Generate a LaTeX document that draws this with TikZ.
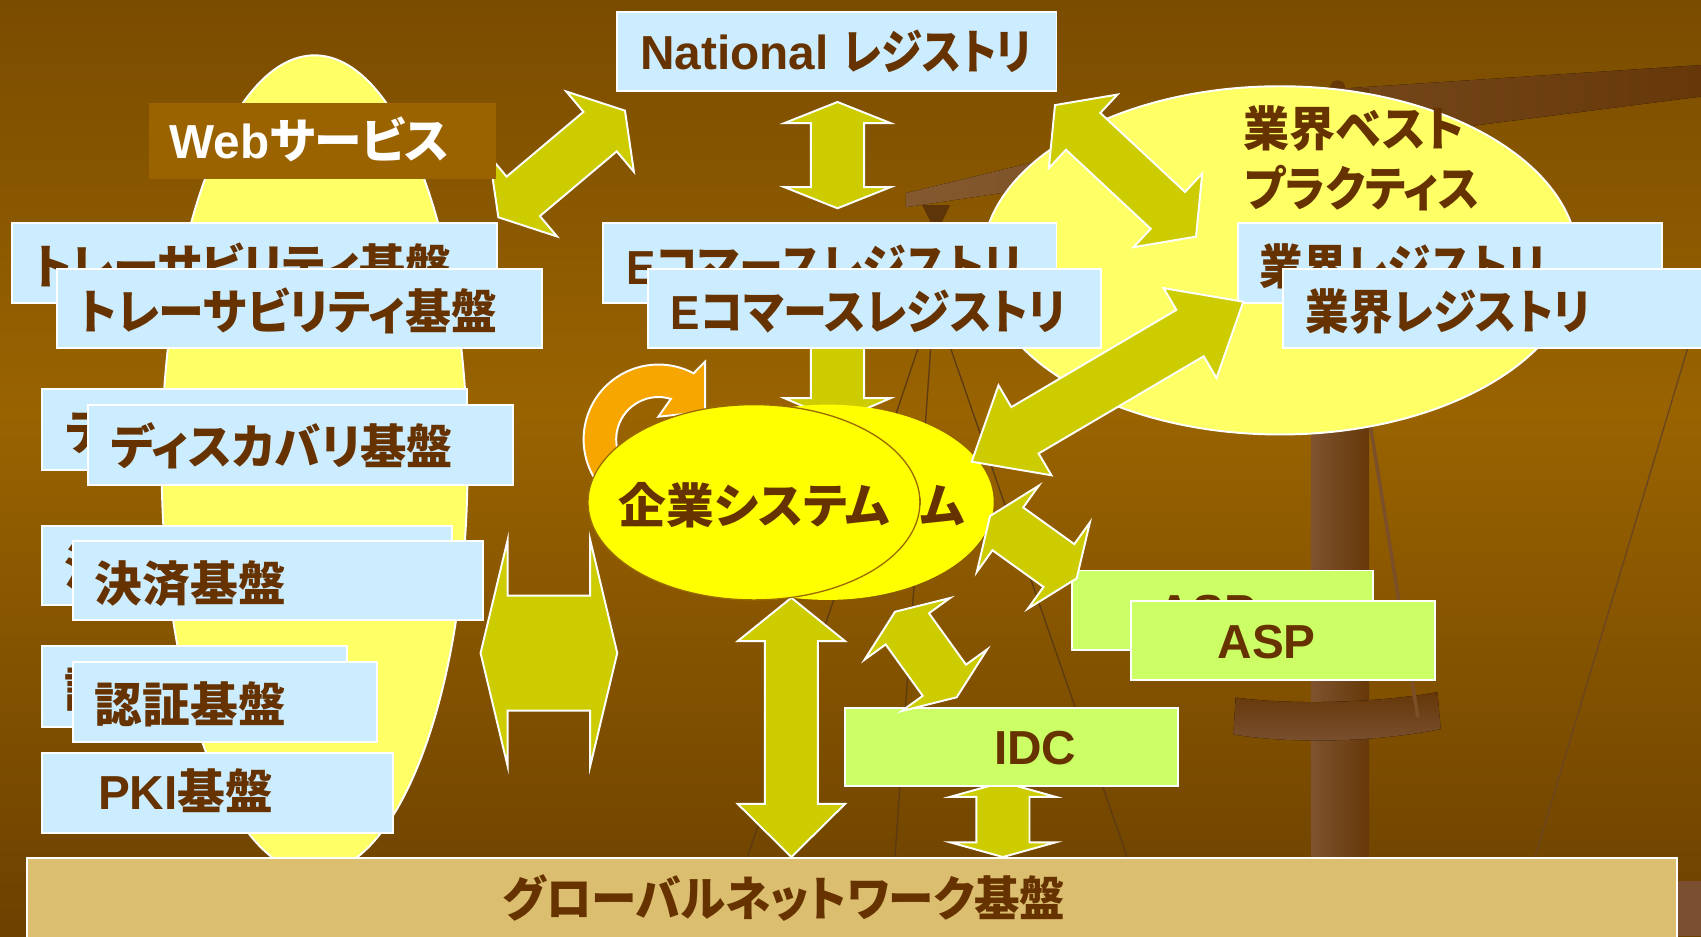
\documentclass[tikz,border=0pt]{standalone}
\usepackage{fontspec}
\usepackage{graphicx}
\usetikzlibrary{shapes.geometric}
\newfontfamily\jpfont{Noto Sans CJK JP}[RawFeature=+palt]
\newfontfamily\latfont{Liberation Sans}
\newcommand\jtext[1]{{\jpfont\bfseries #1}}
\newcommand\ltext[1]{{\latfont\bfseries #1}}
% horizontally condensed label text
\newcommand\narrow[2]{\scalebox{#1}[1]{#2}}

\definecolor{bgtop}{HTML}{7A4C00}
\definecolor{bgmid}{HTML}{996300}
\definecolor{bgbot}{HTML}{6C4100}
\definecolor{textbrown}{HTML}{663300}
\definecolor{skyfill}{HTML}{CCECFF}
\definecolor{limefill}{HTML}{CCFF66}
\definecolor{arrowolive}{HTML}{CCCC00}
\definecolor{paleyellow}{HTML}{FFFF66}
\definecolor{sunyellow}{HTML}{FFFF00}
\definecolor{orangearc}{HTML}{F7A600}
\definecolor{tanfill}{HTML}{DBBE70}
\definecolor{webfill}{HTML}{9A6300}
\definecolor{woodlight}{HTML}{85592F}
\definecolor{wooddark}{HTML}{663809}
\definecolor{woodpole}{HTML}{7E532E}
\definecolor{woodpan}{HTML}{7A5030}
\definecolor{woodstrand}{HTML}{7B4F28}
\definecolor{woodcorner}{HTML}{7A5030}
\definecolor{hangerbrown}{HTML}{5E3508}
\definecolor{stringbrown}{HTML}{5C3A14}
\definecolor{farstring}{HTML}{6A4520}
\definecolor{bizrim}{HTML}{9A6A00}

\pgfdeclareverticalshading{bgshade}{100bp}{color(0bp)=(bgbot); color(25bp)=(bgbot); color(53bp)=(bgmid); color(75bp)=(bgtop); color(100bp)=(bgtop)}

\tikzset{
  skybox/.style={rectangle, draw=white, line width=0.9pt, fill=skyfill, inner sep=0pt},
  limebox/.style={rectangle, draw=white, line width=0.9pt, fill=limefill, inner sep=0pt},
  tanbox/.style={rectangle, draw=white, line width=0.9pt, fill=tanfill, inner sep=0pt},
  webbox/.style={rectangle, fill=webfill, inner sep=0pt},
  lbl/.style={text=textbrown, inner sep=0pt, anchor=base west, font=\fontsize{22}{26}\selectfont},
  blockarrow/.style={draw=white, line width=0.9pt, fill=arrowolive, line join=miter},
  yellowell/.style={ellipse, draw=white, line width=0.9pt, fill=paleyellow, inner sep=0pt},
  bizell/.style={ellipse, fill=sunyellow, inner sep=0pt, minimum width=153pt, minimum height=90pt},
  orangearrow/.style={draw=white, line width=0.9pt, fill=orangearc, line join=miter},
  string/.style={draw=stringbrown, line width=0.6pt},
}

% rectangle node from its top-left and bottom-right corners (pixel grid, y downwards)
\newcommand\slidebox[6]{%
  \node[#1, anchor=north west, minimum width={(#5-#3)*0.5pt}, minimum height={(#6-#4)*0.5pt}] (#2) at (#3,#4) {};}

% double-headed block arrow: centre x, centre y, angle, half length, head length, head half width, shaft half width
\newcommand\dblarrow[7]{%
  \begin{scope}[shift={(#1,#2)}, rotate=#3]
    \draw[blockarrow] (#4,0) -- ({#4-#5},#6) -- ({#4-#5},#7) -- ({-#4+#5},#7) -- ({-#4+#5},#6)
      -- ({-#4},0) -- ({-#4+#5},{-#6}) -- ({-#4+#5},{-#7}) -- ({#4-#5},{-#7}) -- ({#4-#5},{-#6}) -- cycle;
  \end{scope}}

\begin{document}
\begin{tikzpicture}[x=0.5pt, y=-0.5pt]
\useasboundingbox (0,0) rectangle (1568,863);
\clip (0,0) rectangle (1568,863);

% background
\fill[shading=bgshade] (0,0) rectangle (1568,863);

% balance scale in the background
\fill[left color=woodlight, right color=wooddark]
  (835,178) -- (1232,82) -- (1568,60) -- (1568,89) -- (1232,132) -- (835,191) -- cycle;
\fill[wooddark] (1233,81) circle[radius=7];
\fill[hangerbrown] (850,189) -- (876,189) -- (867,207) -- (859,207) -- cycle;
\draw[string] (862,205) -- (861,277);
\draw[string] (861,277) -- (689,790);
\draw[string] (861,277) -- (825,790);
\draw[string] (861,277) -- (1039,790);
\fill[left color=woodpole, right color=wooddark] (1209,82) rectangle (1262,863);
\fill[top color=wooddark, bottom color=woodpan]
  (1139,643) .. controls (1190,650) and (1270,648) .. (1325,638) -- (1328,672)
  .. controls (1270,684) and (1190,686) .. (1137,677) -- cycle;
\draw[draw=woodstrand, line width=1.6pt] (1262,385) -- (1307,661);
\draw[draw=farstring, line width=0.6pt] (1562,300) -- (1415,790);
\fill[woodcorner] (1546,812) rectangle (1568,863);

% large pale ellipses
\node[yellowell, minimum width=141pt, minimum height=377pt] (svcell) at (290,428) {};
\node[yellowell, minimum width=274.5pt, minimum height=160.5pt] (bestell) at (1180,240) {};

% arrow towards the national registry (partly under the web-service label)
\dblarrow{517.75}{151.15}{40.1}{76.3}{30}{48.4}{23.8}

% web service label
\slidebox{webbox}{websvc}{137}{95}{457}{165}
\node[lbl, text=white] (websvclbl) at (156,146) {\ltext{Web}\jtext{サービス}};

% vertical and horizontal block arrows
\dblarrow{772}{143}{90}{49}{19.5}{49}{24.5}
\dblarrow{772}{339}{90}{49}{21}{49}{24.5}
\dblarrow{924.5}{755.5}{90}{34.5}{13.5}{48.5}{24.5}
\dblarrow{506}{602}{0}{63}{25}{104.5}{53}
\draw[blockarrow] (729.5,551) -- (779,591) -- (754,591) -- (754,741) -- (779,741) -- (729.5,790)
  -- (680,741) -- (705,741) -- (705,591) -- (680,591) -- cycle;

% registry boxes
\slidebox{skybox}{natbox}{568}{10}{973}{83}
\node[lbl] (natlbl) at (590,64) {\ltext{National} \narrow{0.87}{\jtext{レジストリ}}};

\slidebox{skybox}{traceback}{10}{205}{457}{278}
\node[lbl] (tracebacklbl) at (30,262) {\narrow{0.962}{\jtext{トレーサビリティ基盤}}};
\slidebox{skybox}{trace}{52}{247}{499}{320}
\node[lbl] (tracelbl) at (72,304) {\narrow{0.962}{\jtext{トレーサビリティ基盤}}};

\slidebox{skybox}{ecomback}{555}{205}{973}{278}
\node[lbl] (ecombacklbl) at (577,262) {\narrow{0.923}{\ltext{E}\jtext{コマースレジストリ}}};
\slidebox{skybox}{ecom}{596}{247}{1014}{320}
\node[lbl] (ecomlbl) at (618,304) {\narrow{0.923}{\ltext{E}\jtext{コマースレジストリ}}};

\slidebox{skybox}{indback}{1140}{205}{1531}{278}
\node[lbl] (indbacklbl) at (1161,262) {\narrow{0.913}{\jtext{業界レジストリ}}};
\slidebox{skybox}{ind}{1182}{247}{1590}{320}
\node[lbl] (indlbl) at (1203,304) {\narrow{0.913}{\jtext{業界レジストリ}}};

\node[lbl] (bestlbla) at (1146,135) {\narrow{0.966}{\jtext{業界ベスト}}};
\node[lbl] (bestlblb) at (1147,190) {\narrow{0.923}{\jtext{プラクティス}}};

\slidebox{skybox}{discback}{38}{358}{430}{432}
\node[lbl] (discbacklbl) at (60,414) {\narrow{0.969}{\jtext{ディスカバリ基盤}}};
\slidebox{skybox}{disc}{80}{372}{472}{446}
\node[lbl] (disclbl) at (102,428) {\narrow{0.969}{\jtext{ディスカバリ基盤}}};

\slidebox{skybox}{payback}{38}{484}{416}{557}
\node[lbl] (paybacklbl) at (59,540) {\jtext{決済基盤}};
\slidebox{skybox}{pay}{66}{498}{444}{571}
\node[lbl] (paylbl) at (87,554) {\jtext{決済基盤}};

\slidebox{skybox}{authback}{38}{595}{319}{669}
\node[lbl] (authbacklbl) at (59,652) {\jtext{認証基盤}};
\slidebox{skybox}{auth}{66}{609}{347}{683}
\node[lbl] (authlbl) at (87,666) {\jtext{認証基盤}};

\slidebox{skybox}{pki}{38}{693}{361}{767}
\node[lbl] (pkilbl) at (90,746) {\ltext{PKI}\jtext{基盤}};

% service provider boxes
\slidebox{limebox}{aspback}{987}{525}{1265}{598}
\node[lbl] (aspbacklbl) at (1067,579) {\ltext{ASP}};
\slidebox{limebox}{asp}{1042}{553}{1322}{626}
\node[lbl] (asplbl) at (1122,607) {\ltext{ASP}};
\slidebox{limebox}{idc}{778}{652}{1085}{724}
\node[lbl] (idclbl) at (916,705) {\ltext{IDC}};

% circular arrow
\draw[orangearrow] (552.6,447.5) arc[start angle=142, end angle=298, radius=69]
  -- (649.9,333.4) -- (649.9,379.5) -- (606.9,384.1) -- (618.4,367.7)
  arc[start angle=287, end angle=152, radius=39] -- cycle;

% enterprise systems
\node[bizell] (bizback) at (763,463) {};
\node[lbl] (bizbacklbl) at (639,483) {\jtext{企業システム}};
\node[bizell, draw=bizrim, line width=0.6pt] (biz) at (695,463) {};
\node[lbl] (bizlbl) at (570,483) {\jtext{企業システム}};

% diagonal block arrows
\dblarrow{1037.5}{157.5}{-43}{88.9}{35.5}{46.4}{23.2}
\dblarrow{1020.9}{351.85}{30.5}{145.3}{57}{48.1}{24.8}
\dblarrow{952.55}{504.4}{-35.7}{49.2}{20.2}{49}{24.3}
\dblarrow{853.45}{603.35}{-54.2}{48.6}{19.4}{48.6}{24.6}

% global network base
\slidebox{tanbox}{glob}{24}{790}{1545}{880}
\node[lbl] (globlbl) at (463,845) {\narrow{0.954}{\jtext{グローバルネットワーク基盤}}};
\end{tikzpicture}
\end{document}
